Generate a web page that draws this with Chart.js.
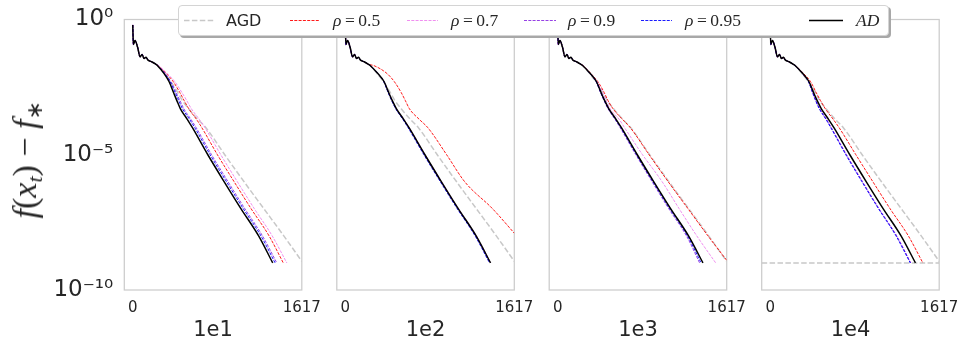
<!DOCTYPE html>
<html><head><meta charset="utf-8">
<script src="https://cdn.jsdelivr.net/npm/chart.js@4"></script>
<style>
html,body{margin:0;padding:0;background:#fff;overflow:hidden;width:965px;height:349px;position:relative;}
canvas{position:absolute;top:0;}
#legend{position:absolute;left:178px;top:5px;width:709px;height:29px;border:1px solid #d4d4d4;border-radius:4px;background:#fff;box-shadow:2px 2px 0 #a8a8a8;z-index:5;}
.sample{position:absolute;top:0;}
.lbl{position:absolute;top:15px;transform:translateY(-50%);white-space:nowrap;color:#262626;line-height:1;}
.sans{font-family:'DejaVu Sans';font-size:16px;}
.math{font-family:'Liberation Serif';font-size:17.5px;}
#ylab{position:absolute;left:27px;top:160px;transform:translate(-50%,-50%) rotate(-90deg);font-family:'Liberation Serif';font-size:34px;white-space:nowrap;color:#262626;z-index:4;}
#ylab sub{font-size:22px;vertical-align:-6px;}
</style>
</head><body>
<div id="ylab"><i>f</i>(<i>x<sub>t</sub></i>) − <i>f</i><sub>∗</sub></div>
<div id="legend"></div>
<script>
// ---------------- data ----------------
const panelTitles = ['1e1', '1e2', '1e3', '1e4'];
const seriesNames = ['AGD', 'ρ = 0.5', 'ρ = 0.7', 'ρ = 0.9', 'ρ = 0.95', 'AD'];
const xTickValues = [0, 1617];
const xTickLabels = ['0', '1617'];
const yTickValues = [1e-10, 1e-5, 1];
const yTickLabels = ['10⁻¹⁰', '10⁻⁵', '10⁰'];

// shared noisy start of every run (iteration, f(x_t)-f*)
const headX = [0, 6, 22, 46, 70, 89, 108, 127, 146, 185, 223];
const headY = [0.631, 0.120, 0.166, 0.0955, 0.0417, 0.0513, 0.0363, 0.0398, 0.0316, 0.0269, 0.0219];

// gap levels at which the iteration counts below were read
const levels = [2e-2, 1e-2, 5e-3, 2e-3, 1e-3, 5e-4, 2e-4, 1e-4, 1e-5, 1e-6, 1e-7, 1e-8, 1e-9];

// AGD (same in every panel)
const agdX = [240, 305, 365, 430, 475, 535, 625, 700, 880, 1065, 1255, 1445, 1617];
const agdY = [2e-2, 1e-2, 5e-3, 2e-3, 1e-3, 5e-4, 2e-4, 1e-4, 1e-5, 1e-6, 1e-7, 1e-8, 1.15e-9];

// AD
const ad_1e1 = [235, 300, 348, 390, 422, 456, 523, 571, 718, 875, 1036, 1204, 1339];
const ad_rest = [238, 312, 372, 415, 450, 490, 560, 610, 762, 920, 1082, 1252, 1390];

// panel 1e1
const r50_1e1 = [241, 322, 388, 450, 492, 536, 611, 661, 810, 970, 1133, 1304, 1440];
const r70_1e1 = [243, 330, 403, 470, 517, 561, 638, 691, 842, 1001, 1164, 1334, 1474];
const r90_1e1 = [239, 310, 364, 415, 452, 489, 558, 607, 754, 912, 1073, 1241, 1378];
const r95_1e1 = [237, 306, 358, 405, 440, 476, 545, 593, 740, 897, 1058, 1226, 1362];

// panel 1e2
const r50_1e2x = [270, 400, 470, 535, 575, 614, 710, 790, 970, 1143, 1410, 1617];
const r50_1e2y = [2e-2, 1e-2, 5e-3, 2e-3, 1e-3, 5e-4, 2e-4, 1e-4, 1e-5, 1e-6, 1e-7, 1.26e-8];
const r70_1e2 = [238, 312, 372, 415, 450, 490, 562, 612, 764, 922, 1084, 1254, 1392];
const r90_1e2 = [238, 312, 370, 412, 447, 486, 556, 606, 758, 915, 1077, 1247, 1385];
const r95_1e2 = [238, 312, 369, 410, 444, 483, 552, 601, 752, 910, 1072, 1242, 1380];

// panel 1e3
const r50_1e3x = [242, 318, 385, 445, 482, 530, 622, 695, 875, 1058, 1248, 1438, 1617];
const r50_1e3y = [2e-2, 1e-2, 5e-3, 2e-3, 1e-3, 5e-4, 2e-4, 1e-4, 1e-5, 1e-6, 1e-7, 1e-8, 1.25e-9];
const r70_1e3 = [240, 315, 378, 430, 464, 502, 590, 640, 812, 1000, 1163, 1331, 1512];
const r90_1e3 = [238, 310, 368, 410, 444, 482, 550, 598, 748, 904, 1064, 1232, 1358];
const r95_1e3 = [238, 311, 370, 412, 447, 486, 555, 604, 755, 912, 1073, 1242, 1372];

// panel 1e4
const r50_1e4 = [240, 320, 387, 440, 482, 528, 605, 660, 820, 983, 1148, 1322, 1461];
const r70_1e4 = [238, 310, 368, 407, 438, 474, 540, 585, 730, 884, 1042, 1210, 1345];
const r90_1e4 = [238, 310, 368, 407, 438, 474, 540, 585, 730, 884, 1042, 1210, 1345];
const r95_1e4 = [238, 310, 367, 405, 435, 470, 535, 580, 724, 878, 1037, 1204, 1340];
const tol_1e4x = [-81, 1617];
const tol_1e4y = [1e-9, 1e-9];

// ---------------- styles ----------------
const colors = ['#c8c8c8', '#ff0000', '#ee82ee', '#8a2be2', '#0000ff', '#000000'];
const widths = [1.5, 0.9, 0.9, 0.9, 0.9, 1.5];
const dashes = [[5.5, 2.4], [3, 1.3], [3, 1.3], [3, 1.3], [3, 1.3], []];

function series(tx, ty) {
  const pts = headX.map((x, i) => ({x: x, y: headY[i]}));
  tx.forEach((x, i) => pts.push({x: x, y: ty[i]}));
  return pts;
}
function plain(tx, ty) { return tx.map((x, i) => ({x: x, y: ty[i]})); }

const panelData = [
  [series(agdX, agdY), series(r50_1e1, levels), series(r70_1e1, levels), series(r90_1e1, levels), series(r95_1e1, levels), series(ad_1e1, levels)],
  [series(agdX, agdY), series(r50_1e2x, r50_1e2y), series(r70_1e2, levels), series(r90_1e2, levels), series(r95_1e2, levels), series(ad_rest, levels)],
  [series(agdX, agdY), series(r50_1e3x, r50_1e3y), series(r70_1e3, levels), series(r90_1e3, levels), series(r95_1e3, levels), series(ad_rest, levels)],
  [series(agdX, agdY), series(r50_1e4, levels), series(r70_1e4, levels), series(r90_1e4, levels), series(r95_1e4, levels), series(ad_rest, levels)]
];

// ---------------- layout ----------------
const panelLefts = [124.3, 336.8, 549.2, 761.7];
const panelWidth = 177.5;
const plotTop = 19.5, plotBottom = 290, H = 349;

const framePlugin = {
  id: 'frame',
  beforeDatasetsDraw(chart) {
    const a = chart.chartArea, ctx = chart.ctx;
    ctx.save();
    ctx.strokeStyle = '#cccccc';
    ctx.lineWidth = 1.25;
    ctx.strokeRect(a.left, a.top, a.right - a.left, a.bottom - a.top);
    ctx.restore();
  }
};

panelTitles.forEach((title, p) => {
  const CL = p === 0 ? 0 : Math.round(panelLefts[p]) - 20;
  const CW = p === 0 ? 330 : (p === 3 ? 965 - CL : 230);
  const padL = p === 0 ? 0 : panelLefts[p] - CL;
  const padR = CW - (panelLefts[p] - CL) - panelWidth;
  const cv = document.createElement('canvas');
  cv.width = CW; cv.height = H;
  cv.style.left = CL + 'px';
  document.body.appendChild(cv);

  const datasets = panelData[p].map((d, i) => ({
    label: seriesNames[i],
    data: d,
    borderColor: colors[i],
    borderWidth: widths[i],
    borderDash: dashes[i],
    pointRadius: 0,
    fill: false,
    cubicInterpolationMode: 'monotone',
    order: 6 - i
  }));
  if (p === 3) {
    datasets.push({label: 'tol', data: plain(tol_1e4x, tol_1e4y), borderColor: colors[0], borderWidth: 1.5,
      borderDash: dashes[0], pointRadius: 0, fill: false, order: 7});
  }

  new Chart(cv, {
    type: 'line',
    data: {datasets},
    plugins: [framePlugin],
    options: {
      responsive: false, animation: false, devicePixelRatio: 1,
      layout: {padding: {top: plotTop, bottom: 0, left: padL, right: padR}},
      plugins: {legend: {display: false}, tooltip: {enabled: false}},
      scales: {
        x: {
          type: 'linear', min: -80.85, max: 1617,
          grid: {display: false, drawTicks: false}, border: {display: false},
          afterBuildTicks: s => { s.ticks = xTickValues.map(v => ({value: v})); },
          afterFit: s => { s.height = H - plotBottom; s.paddingLeft = 0; s.paddingRight = 0; },
          ticks: {autoSkip: false, maxRotation: 0, padding: 9, color: '#262626',
            font: {family: 'DejaVu Sans', size: 15}, callback: (v, i) => xTickLabels[i]},
          title: {display: true, text: title, color: '#262626', font: {family: 'DejaVu Sans', size: 21},
            padding: {top: 0, bottom: 6}}
        },
        y: {
          type: 'logarithmic', min: 1e-10, max: 1,
          display: p === 0,
          grid: {display: false, drawTicks: false}, border: {display: false},
          afterBuildTicks: s => { s.ticks = yTickValues.map(v => ({value: v})); },
          afterFit: s => { s.width = p === 0 ? panelLefts[0] : 0; s.paddingTop = 0; s.paddingBottom = 0; },
          ticks: {autoSkip: false, padding: 11, color: '#262626',
            font: {family: 'DejaVu Sans', size: 23}, callback: (v, i) => yTickLabels[i]}
        }
      }
    }
  });
});

// ---------------- legend (HTML) ----------------
const legendSampleX = [5, 111, 228, 345, 462, 630];
const legendSampleW = [30, 30, 31, 32, 31, 34];
const legendTextX = [47, 154, 272, 389, 506, 677];
const leg = document.getElementById('legend');
seriesNames.forEach((name, i) => {
  const ns = 'http://www.w3.org/2000/svg';
  const svg = document.createElementNS(ns, 'svg');
  svg.setAttribute('class', 'sample');
  svg.setAttribute('width', legendSampleW[i]);
  svg.setAttribute('height', 29);
  svg.style.left = legendSampleX[i] + 'px';
  const ln = document.createElementNS(ns, 'line');
  ln.setAttribute('x1', 0); ln.setAttribute('x2', legendSampleW[i]);
  ln.setAttribute('y1', 14.5); ln.setAttribute('y2', 14.5);
  ln.setAttribute('stroke', colors[i]);
  ln.setAttribute('stroke-width', widths[i]);
  if (dashes[i].length) ln.setAttribute('stroke-dasharray', dashes[i].join(' '));
  svg.appendChild(ln);
  leg.appendChild(svg);
  const t = document.createElement('span');
  t.style.left = legendTextX[i] + 'px';
  if (name === 'AGD') { t.className = 'lbl sans'; t.textContent = name; }
  else if (name === 'AD') { t.className = 'lbl math'; t.innerHTML = '<i>AD</i>'; }
  else { t.className = 'lbl math'; t.innerHTML = '<i>ρ</i>\u2009=\u2009' + name.split('= ')[1]; }
  leg.appendChild(t);
});
</script>
</body></html>
